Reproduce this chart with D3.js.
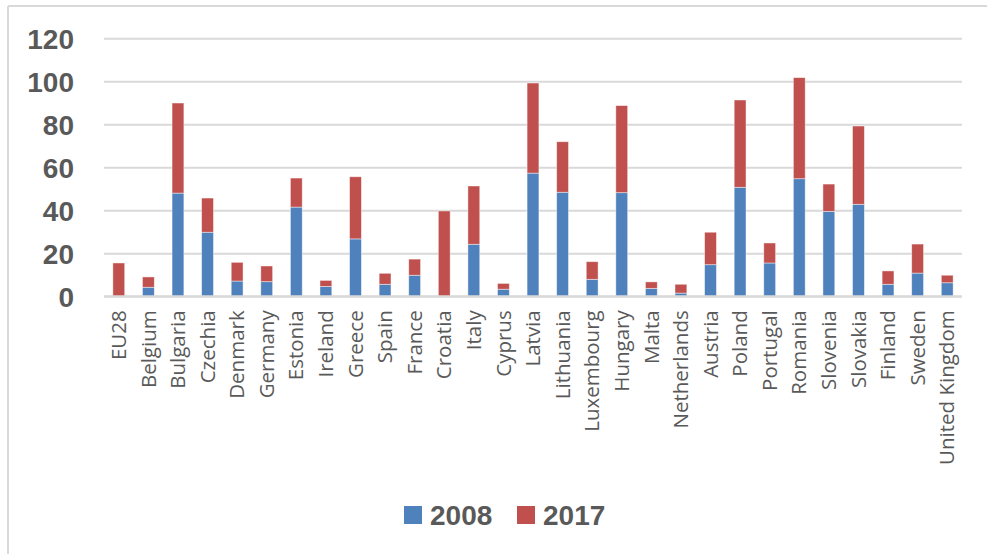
<!DOCTYPE html>
<html>
<head>
<meta charset="utf-8">
<script src="https://cdn.jsdelivr.net/npm/d3@7"></script>
<style>
  html, body { margin: 0; padding: 0; background: #fff; }
  svg { display: block; }
</style>
</head>
<body>
<svg id="chart" width="987" height="554"></svg>
<script>
// Countries along the x axis
const categories = ["EU28", "Belgium", "Bulgaria", "Czechia", "Denmark", "Germany", "Estonia",
  "Ireland", "Greece", "Spain", "France", "Croatia", "Italy", "Cyprus", "Latvia", "Lithuania",
  "Luxembourg", "Hungary", "Malta", "Netherlands", "Austria", "Poland", "Portugal", "Romania",
  "Slovenia", "Slovakia", "Finland", "Sweden", "United Kingdom"];

// Stacked segments: 2008 at the bottom, 2017 on top
const values2008 = [0, 4.2, 48.0, 29.8, 7.1, 6.8, 41.5, 4.6, 26.7, 5.6, 9.8, 0, 24.2, 3.3, 57.3, 48.4,
  7.9, 48.2, 3.7, 1.5, 14.7, 50.7, 15.5, 54.7, 39.5, 42.8, 5.6, 10.8, 6.3];
const values2017 = [15.5, 4.8, 41.9, 15.9, 8.7, 7.3, 13.5, 2.8, 28.9, 5.1, 7.5, 39.7, 27.1, 2.7, 41.9, 23.5,
  8.2, 40.5, 3.0, 4.1, 15.1, 40.6, 9.3, 47.0, 12.7, 36.4, 6.2, 13.5, 3.5];

const seriesNames = ["2008", "2017"];
const seriesColors = ["#4F81BD", "#C0504D"];
const yTicks = [0, 20, 40, 60, 80, 100, 120];

const svg = d3.select("#chart");
const W = 987, H = 554;
const margin = { left: 104, right: 25, top: 38.3, bottom: 257.7 };

// Outer frame (top and left edges)
svg.append("line").attr("x1", 8).attr("x2", W).attr("y1", 6).attr("y2", 6)
  .attr("stroke", "#d9d9d9").attr("stroke-width", 2);
svg.append("line").attr("x1", 8).attr("x2", 8).attr("y1", 6).attr("y2", H)
  .attr("stroke", "#d9d9d9").attr("stroke-width", 2);

const x = d3.scaleBand()
  .domain(categories)
  .range([margin.left, W - margin.right])
  .paddingInner(0.6)
  .paddingOuter(0.3);

const y = d3.scaleLinear()
  .domain([0, 120])
  .range([H - margin.bottom, margin.top]);

// Horizontal gridlines and y labels
const yAxis = d3.axisLeft(y).tickValues(yTicks).tickSize(0).tickPadding(0);
const gy = svg.append("g").attr("transform", `translate(${margin.left},0)`).call(yAxis);
gy.select(".domain").remove();
gy.selectAll(".tick line").remove();
gy.selectAll(".tick").append("line")
  .attr("x1", 0).attr("x2", W - margin.right - margin.left)
  .attr("stroke", "#d9d9d9").attr("stroke-width", 2);
gy.selectAll(".tick text")
  .attr("x", -30)
  .attr("dy", "0.36em")
  .attr("fill", "#595959")
  .style("font-family", "'Liberation Sans', Arial, sans-serif")
  .style("font-weight", "bold")
  .style("font-size", "28px");

// Stack the two series
const table = categories.map((c, i) => ({ cat: c, "2008": values2008[i], "2017": values2017[i] }));
const stack = d3.stack().keys(seriesNames)(table);

svg.append("g").selectAll("g")
  .data(stack)
  .join("g")
  .attr("fill", (d, i) => seriesColors[i])
  .selectAll("rect")
  .data(d => d)
  .join("rect")
  .attr("x", d => x(d.data.cat))
  .attr("width", x.bandwidth())
  .attr("y", d => y(d[1]))
  .attr("height", d => Math.max(0, y(d[0]) - y(d[1])))
  .attr("stroke", "rgba(255,255,255,0.55)")
  .attr("stroke-width", 0.8);

// Baseline
svg.append("line")
  .attr("x1", margin.left).attr("x2", W - margin.right)
  .attr("y1", y(0)).attr("y2", y(0))
  .attr("stroke", "#d9d9d9").attr("stroke-width", 2);

// Category labels, rotated
const xAxis = d3.axisBottom(x).tickSize(0).tickPadding(0);
const gx = svg.append("g").attr("transform", `translate(0,${y(0)})`).call(xAxis);
gx.select(".domain").remove();
gx.selectAll(".tick text")
  .attr("transform", "rotate(-90)")
  .attr("x", -14)
  .attr("y", 0)
  .attr("dy", "0.35em")
  .attr("text-anchor", "end")
  .attr("fill", "#595959")
  .style("font-family", "'Open Sans', sans-serif")
  .style("font-size", "20.5px");

// Legend
const legendItems = [
  { name: seriesNames[0], color: seriesColors[0], x: 404 },
  { name: seriesNames[1], color: seriesColors[1], x: 517 }
];
const lg = svg.append("g");
legendItems.forEach(it => {
  lg.append("rect").attr("x", it.x).attr("y", 506).attr("width", 18).attr("height", 18)
    .attr("fill", it.color);
  lg.append("text").attr("x", it.x + 26).attr("y", 515).attr("dy", "0.36em")
    .attr("fill", "#595959")
    .style("font-family", "'Liberation Sans', Arial, sans-serif")
    .style("font-weight", "bold")
    .style("font-size", "28px")
    .text(it.name);
});
</script>
</body>
</html>
